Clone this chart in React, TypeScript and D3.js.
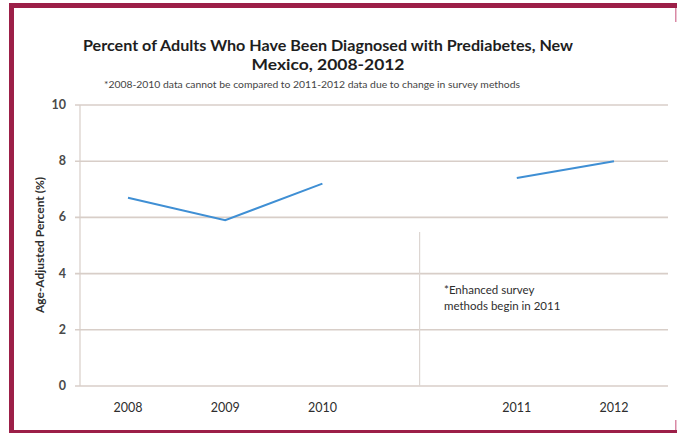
import React from "react";
import * as d3 from "d3";

// Survey years; the blank slot marks the break between survey methods
const categories = ["2008", "2009", "2010", "", "2011", "2012"];
const earlyYears = ["2008", "2009", "2010"];
const earlyValues = [6.7, 5.9, 7.2];
const lateYears = ["2011", "2012"];
const lateValues = [7.4, 8.0];
const yTicks = [0, 2, 4, 6, 8, 10];

const titleLines = [
  "Percent of Adults Who Have Been Diagnosed with Prediabetes, New",
  "Mexico, 2008-2012",
];
const subtitle =
  "*2008-2010 data cannot be compared to 2011-2012 data due to change in survey methods";
const noteLines = ["*Enhanced survey", "methods begin in 2011"];
const yTitle = "Age-Adjusted Percent (%)";

const W = 677;
const H = 433;
const FONT = "Lato, 'Open Sans', sans-serif";
const MAROON = "#9c1f48";
const GRID = "#d8cec8";
const LINE = "#3f8fd4";
const TEXT = "#2e2e2e";

export default function App() {
  const plotLeft = 80;
  const plotRight = 668;
  const x = d3
    .scalePoint<string>()
    .domain(categories)
    .range([128, 614]);
  const y = d3.scaleLinear().domain([0, 10]).range([386, 105]);

  const line = d3
    .line<[string, number]>()
    .x((d) => x(d[0]) as number)
    .y((d) => y(d[1]));

  const early = earlyYears.map((yr, i) => [yr, earlyValues[i]] as [string, number]);
  const late = lateYears.map((yr, i) => [yr, lateValues[i]] as [string, number]);
  const breakX = x("") as number;

  return (
    <svg
      width={W}
      height={H}
      style={{ position: "absolute", left: 0, top: 0, background: "#fff" }}
      fontFamily={FONT}
    >
      {/* frame */}
      <rect x={0} y={0} width={W} height={H} fill="#fff" />
      <rect x={9} y={3} width={668} height={5} fill={MAROON} />
      <rect x={9} y={3} width={5} height={430} fill={MAROON} />
      <rect x={9} y={430} width={668} height={3} fill={MAROON} />
      <rect x={675} y={8} width={1.5} height={14} fill="#d98aa5" />
      <rect x={675} y={420} width={1.5} height={10} fill="#d98aa5" />

      {/* title */}
      {titleLines.map((t, i) => (
        <text
          key={i}
          x={328}
          y={51 + i * 19}
          textAnchor="middle"
          fontSize={15}
          fontWeight="bold"
          fill="#1e1e1e"
          textLength={i === 0 ? 490 : 153}
          lengthAdjust="spacingAndGlyphs"
        >
          {t}
        </text>
      ))}
      <text
        x={104}
        y={88}
        fontSize={9.5}
        fill="#444"
        textLength={416}
        lengthAdjust="spacingAndGlyphs"
      >
        {subtitle}
      </text>

      {/* gridlines and y ticks */}
      {yTicks.map((t) => (
        <g key={t}>
          <line
            x1={plotLeft - 5}
            x2={plotRight}
            y1={y(t)}
            y2={y(t)}
            stroke={GRID}
            strokeWidth={1.6}
          />
          <text
            x={66}
            y={y(t) + 4}
            textAnchor="end"
            fontSize={12.5}
            fontWeight="bold"
            fill="#4a4a4a"
          >
            {t}
          </text>
        </g>
      ))}
      <line
        x1={plotLeft}
        x2={plotLeft}
        y1={y(10)}
        y2={y(0)}
        stroke={GRID}
        strokeWidth={1.2}
      />

      {/* separator between survey methods */}
      <line
        x1={breakX}
        x2={breakX}
        y1={232}
        y2={y(0)}
        stroke="#ddd6d2"
        strokeWidth={1.2}
      />

      {/* y-axis title */}
      <text
        transform={`translate(44, ${245}) rotate(-90)`}
        textAnchor="middle"
        fontSize={11.5}
        fontWeight="bold"
        fill={TEXT}
        textLength={136}
        lengthAdjust="spacingAndGlyphs"
      >
        {yTitle}
      </text>

      {/* x labels */}
      {categories
        .filter((c) => c !== "")
        .map((c) => (
          <text
            key={c}
            x={x(c) as number}
            y={412}
            textAnchor="middle"
            fontSize={12.5}
            fill={TEXT}
          >
            {c}
          </text>
        ))}

      {/* series */}
      <path d={line(early) || ""} fill="none" stroke={LINE} strokeWidth={2} />
      <path d={line(late) || ""} fill="none" stroke={LINE} strokeWidth={2} />

      {/* note */}
      {noteLines.map((t, i) => (
        <text
          key={i}
          x={444}
          y={294 + i * 16}
          fontSize={11.5}
          fill={TEXT}
        >
          {t}
        </text>
      ))}
    </svg>
  );
}
